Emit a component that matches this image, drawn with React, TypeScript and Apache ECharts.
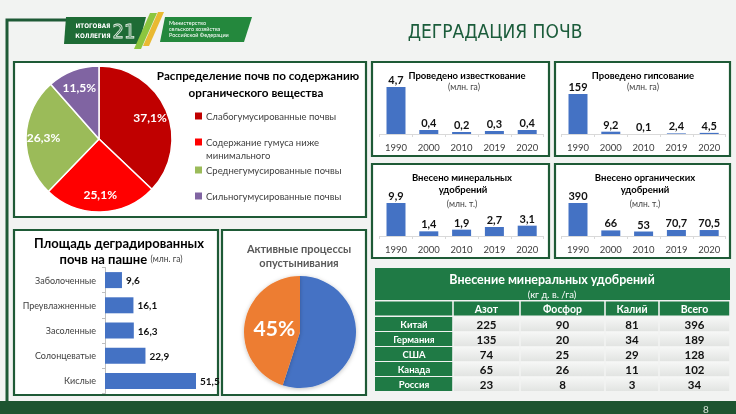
import React, { useEffect, useRef } from 'react';
import * as echarts from 'echarts';

const FONT = 'Lato, "Open Sans", "Noto Sans", sans-serif';
const NARROW = '"Liberation Sans Narrow", "DejaVu Sans Condensed", sans-serif';

// ---- data ----
const soilCategories = [
  'Слабогумусированные почвы',
  'Содержание гумуса ниже\nминимального',
  'Среднегумусированные почвы',
  'Сильногумусированные почвы',
];
const soilShares = [37.1, 25.1, 26.3, 11.5];
const soilColors = ['#c00000', '#ff0000', '#9bbb59', '#8064a2'];

const degradedCategories = ['Заболоченные', 'Преувлажненные', 'Засоленные', 'Солонцеватые', 'Кислые'];
const degradedArea = [9.6, 16.1, 16.3, 22.9, 51.5];

const desertNames = ['Прочие территории', 'Активные процессы опустынивания'];
const desertShares = [55, 45];

const years = ['1990', '2000', '2010', '2019', '2020'];
const liming = [4.7, 0.4, 0.2, 0.3, 0.4];
const gypsum = [159, 9.2, 0.1, 2.4, 4.5];
const mineralFert = [9.9, 1.4, 1.9, 2.7, 3.1];
const organicFert = [390, 66, 53, 70.7, 70.5];

const countries = ['Китай', 'Германия', 'США', 'Канада', 'Россия'];
const nutrients = ['Азот', 'Фосфор', 'Калий', 'Всего'];
const nitrogen = [225, 135, 74, 65, 23];
const phosphorus = [90, 20, 25, 26, 8];
const potassium = [81, 34, 29, 11, 3];
const totalFert = [396, 189, 128, 102, 34];

const fmt = (v: number) => String(v).replace('.', ',');

const DARK = '#1e5a36';
const TGREEN = '#1f7a45';
const BLUE = '#4472c4';

function txt(text: string, x: number, y: number, size: number, opts: any = {}) {
  return {
    type: 'text',
    z: 6,
    silent: true,
    style: {
      text,
      x,
      y,
      fontSize: size,
      fontFamily: opts.family || FONT,
      fontWeight: opts.bold ? 'bold' : 'normal',
      fill: opts.color || '#000',
      textAlign: opts.align || 'center',
      textVerticalAlign: 'middle',
      stroke: opts.stroke,
      lineWidth: opts.lineWidth,
    },
  };
}

function panel(x: number, y: number, w: number, h: number) {
  return {
    type: 'rect',
    z: 1,
    silent: true,
    shape: { x, y, width: w, height: h },
    style: { fill: '#ffffff', stroke: DARK, lineWidth: 2.2 },
  };
}

function buildGraphics() {
  const g: any[] = [];
  g.push({ type: 'rect', z: 0, silent: true, shape: { x: 0, y: 0, width: 736, height: 414 }, style: { fill: '#f2f3f2' } });
  g.push({ type: 'polyline', z: 2, silent: true, shape: { points: [[66, 20], [7, 20], [7, 403]] }, style: { stroke: DARK, lineWidth: 3, fill: null } });
  g.push({ type: 'rect', z: 2, silent: true, shape: { x: 0, y: 401, width: 736, height: 13 }, style: { fill: '#1d5430' } });
  g.push(txt('8', 706, 409, 10, { color: '#d7e3d7' }));
  // logo
  g.push({ type: 'polygon', z: 3, silent: true, shape: { points: [[66, 17], [146, 17], [139, 44], [64, 44]] }, style: { fill: '#1e6b35' } });
  g.push({ type: 'polygon', z: 3, silent: true, shape: { points: [[150, 13], [157, 13], [141, 49], [134, 49]] }, style: { fill: '#8cc63f' } });
  g.push({ type: 'polygon', z: 3, silent: true, shape: { points: [[158, 12], [164, 12], [149, 46], [143, 46]] }, style: { fill: '#e9b932' } });
  g.push({ type: 'polygon', z: 3, silent: true, shape: { points: [[165, 17], [252, 17], [244, 42], [160, 42]] }, style: { fill: '#24883d' } });
  g.push(txt('ИТОГОВАЯ', 93, 25, 6.3, { bold: true, color: '#fff', family: NARROW }));
  g.push(txt('КОЛЛЕГИЯ', 93, 35, 6.3, { bold: true, color: '#fff', family: NARROW }));
  g.push(txt('21', 124, 31, 20, { color: 'rgba(0,0,0,0)', stroke: '#e8f0e8', lineWidth: 0.8, family: NARROW }));
  g.push(txt('Министерство', 169, 23, 5.5, { color: '#fff', align: 'left' }));
  g.push(txt('сельского хозяйства', 169, 29, 5.5, { color: '#fff', align: 'left' }));
  g.push(txt('Российской Федерации', 169, 35, 5.5, { color: '#fff', align: 'left' }));
  g.push(txt('ДЕГРАДАЦИЯ ПОЧВ', 495, 31, 19, { color: '#1b5c3b', family: NARROW }));

  // panels
  g.push(panel(14, 62, 352, 155));
  g.push(panel(14, 230, 204, 165));
  g.push(panel(222, 230, 144, 165));
  g.push(panel(372, 62, 177, 94));
  g.push(panel(555, 62, 175, 94));
  g.push(panel(372, 164, 177, 94));
  g.push(panel(555, 164, 175, 94));

  // pie 1 title + legend
  g.push(txt('Распределение почв по содержанию', 258, 75, 11.7, { bold: true }));
  g.push(txt('органического вещества', 256, 92, 11.7, { bold: true }));
  const legY = [116, 142, 170, 196];
  soilCategories.forEach((name, i) => {
    g.push({ type: 'rect', z: 6, silent: true, shape: { x: 195, y: legY[i] - 3.5, width: 7, height: 7 }, style: { fill: soilColors[i] } });
    name.split('\n').forEach((ln, j) => g.push(txt(ln, 206, legY[i] + j * 13, 9.5, { color: '#404040', align: 'left' })));
  });

  // hbar title
  g.push(txt('Площадь деградированных', 119, 243, 13, { bold: true }));
  g.push({
    type: 'text', z: 6, silent: true,
    style: {
      text: '{b|почв на пашне} {s|(млн. га)}', x: 121, y: 259, textAlign: 'center', textVerticalAlign: 'middle',
      rich: {
        b: { fontSize: 13, fontWeight: 'bold', fontFamily: FONT, fill: '#000' },
        s: { fontSize: 8.5, fontFamily: FONT, fill: '#404040' },
      },
    },
  });

  // pie 2 title
  g.push(txt('Активные процессы', 299, 248, 11, { bold: true, color: '#595959' }));
  g.push(txt('опустынивания', 299, 262, 11, { bold: true, color: '#595959' }));

  // small panel titles
  g.push(txt('Проведено известкование', 467, 75, 9.5, { bold: true }));
  g.push(txt('(млн. га)', 464, 87, 8.5, { color: '#404040' }));
  g.push(txt('Проведено гипсование', 643, 75, 9.5, { bold: true }));
  g.push(txt('(млн. га)', 643, 87, 8.5, { color: '#404040' }));
  g.push(txt('Внесено минеральных', 462, 177, 9.5, { bold: true }));
  g.push(txt('удобрений', 463, 189, 9.5, { bold: true }));
  g.push(txt('(млн. т.)', 462, 204, 8.5, { color: '#404040' }));
  g.push(txt('Внесено органических', 645, 177, 9.5, { bold: true }));
  g.push(txt('удобрений', 645, 189, 9.5, { bold: true }));
  g.push(txt('(млн. т.)', 645, 204, 8.5, { color: '#404040' }));

  // table
  const bx = [375, 453, 520, 605, 659, 730];
  g.push({ type: 'rect', z: 3, silent: true, shape: { x: 375, y: 268, width: 355, height: 32 }, style: { fill: TGREEN } });
  g.push(txt('Внесение минеральных удобрений', 552, 279, 12.5, { bold: true, color: '#fff' }));
  g.push(txt('(кг д. в. /га)', 552, 294, 9.5, { color: '#fff' }));
  const cell = (c: number, y: number, h: number, fill: any) => ({
    type: 'rect', z: 3, silent: true,
    shape: { x: bx[c] + (c === 0 ? 0 : 0.8), y, width: bx[c + 1] - bx[c] - (c === 0 ? 0.8 : 1.6), height: h },
    style: { fill },
  });
  const hy = 301.5;
  const hh = 14;
  for (let c = 0; c < 5; c++) g.push(cell(c, hy, hh, TGREEN));
  nutrients.forEach((n, i) => g.push(txt(n, (bx[i + 1] + bx[i + 2]) / 2, hy + hh / 2 + 0.5, 10.5, { bold: true, color: '#fff' })));
  const cols = [nitrogen, phosphorus, potassium, totalFert];
  countries.forEach((cn, r) => {
    const y = 317 + r * 15;
    const h = 14;
    g.push(cell(0, y, h, TGREEN));
    g.push(txt(cn, (bx[0] + bx[1]) / 2, y + h / 2 + 0.5, 9.5, { bold: true, color: '#fff' }));
    cols.forEach((col, c) => {
      const fill = new echarts.graphic.LinearGradient(0, 0, 0, 1, [
        { offset: 0, color: '#f6f7f6' },
        { offset: 1, color: '#e2e4e2' },
      ]);
      g.push(cell(c + 1, y, h, fill));
      g.push(txt(String(col[r]), (bx[c + 1] + bx[c + 2]) / 2, y + h / 2 + 0.5, 11.5, { bold: true, color: '#111' }));
    });
  });
  return g;
}

function smallX(gridIndex: number) {
  return {
    type: 'category',
    gridIndex,
    z: 5,
    data: years,
    axisLine: { lineStyle: { color: '#d9d9d9' } },
    axisTick: { show: true, length: 3, lineStyle: { color: '#d9d9d9' } },
    axisLabel: { fontSize: 9.5, color: '#404040', margin: 8, fontFamily: FONT },
  };
}
function smallY(gridIndex: number) {
  return { type: 'value', gridIndex, min: 0, max: 'dataMax', show: false };
}
function smallBar(idx: number, data: number[]) {
  return {
    type: 'bar',
    xAxisIndex: idx,
    yAxisIndex: idx,
    data,
    barWidth: 19,
    z: 5,
    itemStyle: { color: BLUE },
    label: {
      show: true,
      position: 'top',
      distance: 2,
      fontSize: 11,
      fontWeight: 'bold',
      color: '#111',
      fontFamily: FONT,
      formatter: (p: any) => fmt(p.value),
    },
    silent: true,
  };
}

function buildOption() {
  return {
    animation: false,
    graphic: { elements: buildGraphics() },
    grid: [
      { left: 105, top: 267.5, width: 91, height: 126 },
      { left: 379.6, top: 87, width: 164, height: 47 },
      { left: 561.6, top: 94, width: 164, height: 40 },
      { left: 379.6, top: 203, width: 164, height: 33 },
      { left: 561.6, top: 203, width: 164, height: 33 },
    ],
    xAxis: [
      { type: 'value', gridIndex: 0, min: 0, max: 'dataMax', show: false },
      smallX(1), smallX(2), smallX(3), smallX(4),
    ],
    yAxis: [
      {
        type: 'category',
        gridIndex: 0,
        z: 5,
        data: degradedCategories,
        inverse: true,
        axisLine: { lineStyle: { color: '#bfbfbf' } },
        axisTick: { show: true, length: 3, lineStyle: { color: '#bfbfbf' } },
        axisLabel: { fontSize: 9, color: '#404040', margin: 9, fontFamily: FONT },
      },
      smallY(1), smallY(2), smallY(3), smallY(4),
    ],
    series: [
      {
        type: 'pie',
        center: [99, 139],
        radius: 73,
        startAngle: 90,
        silent: true,
        z: 5,
        label: { show: false },
        labelLine: { show: false },
        itemStyle: { borderColor: '#ffffff', borderWidth: 1.5 },
        data: soilShares.map((v, i) => ({ value: v, name: soilCategories[i], itemStyle: { color: soilColors[i] } })),
      },
      {
        type: 'pie',
        center: [99, 139],
        radius: [32, 73],
        startAngle: 90,
        silent: true,
        z: 6,
        itemStyle: { color: 'rgba(0,0,0,0)' },
        labelLine: { show: false },
        label: {
          show: true,
          position: 'inside',
          color: '#fff',
          fontSize: 12,
          fontWeight: 'bold',
          fontFamily: FONT,
          formatter: (p: any) => fmt(p.value) + '%',
        },
        data: soilShares.map((v, i) => ({ value: v, name: soilCategories[i] })),
      },
      {
        type: 'bar',
        xAxisIndex: 0,
        yAxisIndex: 0,
        data: degradedArea,
        barWidth: 16,
        z: 5,
        itemStyle: { color: BLUE },
        silent: true,
        label: {
          show: true,
          position: 'right',
          distance: 4,
          fontSize: 10,
          fontWeight: 'bold',
          color: '#111',
          fontFamily: FONT,
          formatter: (p: any) => fmt(p.value),
        },
      },
      {
        type: 'pie',
        center: [300, 332],
        radius: 56,
        startAngle: 90,
        silent: true,
        z: 5,
        label: { show: false },
        labelLine: { show: false },
        itemStyle: { shadowBlur: 4, shadowColor: 'rgba(0,0,0,0.25)', shadowOffsetY: 1 },
        data: [
          { value: desertShares[0], name: desertNames[0], itemStyle: { color: BLUE } },
          { value: desertShares[1], name: desertNames[1], itemStyle: { color: '#ed7d31' } },
        ],
      },
      {
        type: 'pie',
        center: [300, 332],
        radius: [0, 46],
        startAngle: 90,
        silent: true,
        z: 6,
        itemStyle: { color: 'rgba(0,0,0,0)' },
        labelLine: { show: false },
        label: {
          position: 'inside',
          color: '#fff',
          fontSize: 21,
          fontWeight: 'bold',
          fontFamily: FONT,
          formatter: (p: any) => p.value + '%',
        },
        data: [
          { value: desertShares[0], name: desertNames[0], label: { show: false } },
          { value: desertShares[1], name: desertNames[1], label: { show: true } },
        ],
      },
      smallBar(1, liming),
      smallBar(2, gypsum),
      smallBar(3, mineralFert),
      smallBar(4, organicFert),
    ],
  };
}

export default function App() {
  const ref = useRef<HTMLDivElement>(null);
  useEffect(() => {
    document.body.style.margin = '0';
    const chart = echarts.init(ref.current as HTMLDivElement, null, { renderer: 'svg' });
    chart.setOption(buildOption() as any);
    return () => chart.dispose();
  }, []);
  return <div ref={ref} style={{ position: 'fixed', left: 0, top: 0, width: 736, height: 414 }} />;
}
